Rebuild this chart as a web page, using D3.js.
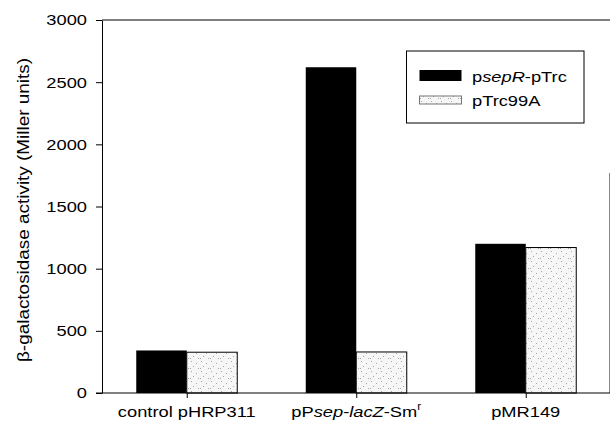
<!DOCTYPE html>
<html>
<head>
<meta charset="utf-8">
<script src="https://cdnjs.cloudflare.com/ajax/libs/d3/7.8.5/d3.min.js"></script>
<style>
body { margin: 0; background: #fff; }
svg { display: block; font-family: "Liberation Sans", Arial, sans-serif; }
</style>
</head>
<body>
<script>
var categories = ['control', 'sepLac', 'pMR149'];
var sepR = [342, 2620, 1200];
var trc99A = [328, 330, 1170];
var yTicks = [0, 500, 1000, 1500, 2000, 2500, 3000];
var seriesNames = ['psepR-pTrc', 'pTrc99A'];

var width = 610, height = 425;
var margin = {left: 102, top: 20, bottom: 393, right: 610.5};
var barW = 50.5;
var fs = 15.5, stretch = 1.18;  // scanned text is a bit wide

var svg = d3.select('body').append('svg').attr('width', width).attr('height', height);

// stipple pattern for the light bars
var defs = svg.append('defs');
var pat = defs.append('pattern').attr('id', 'stip').attr('patternUnits', 'userSpaceOnUse')
    .attr('width', 10).attr('height', 10);
pat.append('rect').attr('width', 10).attr('height', 10).attr('fill', '#f6f6f6');
[[1,1],[6,3],[3,6],[8,8],[0,8]].forEach(function(p){
    pat.append('rect').attr('x', p[0]).attr('y', p[1]).attr('width', 1).attr('height', 1).attr('fill', '#a8a8a8');
});

var x = d3.scalePoint().domain(categories).range([margin.left, margin.right]).padding(0.5);
var y = d3.scaleLinear().domain([0, 3000]).range([margin.bottom, margin.top]);

// bars
var g = svg.append('g');
g.selectAll('.b1').data(categories).enter().append('rect')
    .attr('x', function(d){ return x(d) - barW; })
    .attr('y', function(d, i){ return y(sepR[i]); })
    .attr('width', barW)
    .attr('height', function(d, i){ return y(0) - y(sepR[i]); })
    .attr('fill', '#000');
g.selectAll('.b2').data(categories).enter().append('rect')
    .attr('x', function(d){ return x(d); })
    .attr('y', function(d, i){ return y(trc99A[i]); })
    .attr('width', barW)
    .attr('height', function(d, i){ return y(0) - y(trc99A[i]); })
    .attr('fill', 'url(#stip)')
    .attr('stroke', '#000').attr('stroke-width', 1);

// frame lines
svg.append('line').attr('x1', margin.left).attr('x2', width).attr('y1', y(3000)).attr('y2', y(3000))
    .attr('stroke', '#000').attr('stroke-width', 1);
svg.append('line').attr('x1', 609.5).attr('x2', 609.5).attr('y1', 173).attr('y2', y(0))
    .attr('stroke', '#888').attr('stroke-width', 1);

// y axis
var yAxis = d3.axisLeft(y).tickValues(yTicks).tickSize(6).tickSizeOuter(0).tickFormat(d3.format('d'));
var ya = svg.append('g').attr('transform', 'translate(' + margin.left + ',0)').call(yAxis);
ya.selectAll('text').attr('x', 0)
    .attr('transform', 'translate(-15,0) scale(' + stretch + ',1)')
    .attr('font-size', fs).attr('font-family', '"Liberation Sans", Arial, sans-serif').attr('fill', '#000');
ya.select('.domain').attr('stroke', '#000');

// x axis
var xAxis = d3.axisBottom(x).tickSize(5).tickSizeOuter(0).tickFormat('');
var xa = svg.append('g').attr('transform', 'translate(0,' + margin.bottom + ')').call(xAxis);
xa.select('.domain').attr('d', 'M' + (margin.left - 6) + ',0H' + width).attr('stroke', '#000');

// x labels with mixed styles
var xLabels = [
    [['control pHRP311', 'normal', false]],
    [['pP', 'normal', false], ['sep', 'italic', false], ['-', 'normal', false], ['lacZ', 'italic', false], ['-Sm', 'normal', false], ['r', 'normal', true]],
    [['pMR149', 'normal', false]]
];
categories.forEach(function(c, i){
    var t = svg.append('g').attr('transform', 'translate(' + x(c) + ',417) scale(' + stretch + ',1)')
        .append('text').attr('text-anchor', 'middle').attr('font-size', fs).attr('fill', '#000');
    xLabels[i].forEach(function(p){
        var ts = t.append('tspan').text(p[0]).attr('font-style', p[1]);
        if (p[2]) ts.attr('font-size', 10).attr('dy', -7);
    });
});

// y title
svg.append('text').attr('transform', 'translate(29,210) rotate(-90)').attr('text-anchor', 'middle')
    .attr('font-size', 16).attr('fill', '#000')
    .attr('textLength', 304).attr('lengthAdjust', 'spacingAndGlyphs')
    .text('\u03b2-galactosidase activity (Miller units)');

// legend
var leg = svg.append('g');
leg.append('rect').attr('x', 406.5).attr('y', 51).attr('width', 177.5).attr('height', 72)
    .attr('fill', '#fff').attr('stroke', '#000').attr('stroke-width', 1);
var legFills = ['#000', 'url(#stip)'];
seriesNames.forEach(function(s, i){
    var yy = 70 + i * 24;
    leg.append('rect').attr('x', 419.5).attr('y', yy + (i ? 2 : 0)).attr('width', 42).attr('height', i ? 8 : 11)
        .attr('fill', legFills[i]).attr('stroke', i ? '#777' : 'none');
    var t = leg.append('g').attr('transform', 'translate(472,' + (yy + 12) + ') scale(' + stretch + ',1)')
        .append('text').attr('font-size', fs).attr('fill', '#000');
    if (i === 0) {
        t.append('tspan').text('p');
        t.append('tspan').text('sepR').attr('font-style', 'italic');
        t.append('tspan').text('-pTrc');
    } else {
        t.text(s);
    }
});
</script>
</body>
</html>
